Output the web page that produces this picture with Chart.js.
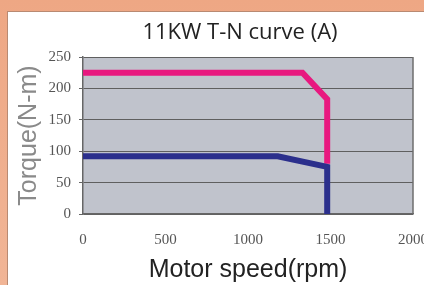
<!DOCTYPE html>
<html>
<head>
<meta charset="utf-8">
<script src="https://cdn.jsdelivr.net/npm/chart.js@4/dist/chart.umd.min.js"></script>
<style>
  html, body { margin: 0; padding: 0; }
  body { width: 424px; height: 285px; overflow: hidden; position: relative;
         background: linear-gradient(180deg, #eea784 0%, #f1b596 100%); }
  #panel { position: absolute; left: 7px; top: 11px; width: 430px; height: 290px;
           background: #fff; border-left: 1px solid #b98a72; border-top: 1px solid #b98a72; }
  #wrap { position: absolute; left: 0; top: 0; width: 424px; height: 285px; }
</style>
</head>
<body>
<div id="panel"></div>
<div id="wrap"><canvas id="tn" width="424" height="285"></canvas></div>
<script>
// values
const speedA = [0, 1330, 1480, 1480]     // rpm, pink (peak)
const torqueA = [225, 225, 183, 80]      // N-m
const speedB = [0, 1180, 1480, 1480]     // rpm, blue (rated)
const torqueB = [92, 92, 75, 0]
const xTicks = [0, 500, 1000, 1500, 2000]
const yTicks = [0, 50, 100, 150, 200, 250]

const toPoints = (xs, ys) => xs.map((x, i) => ({ x: x, y: ys[i] }))

// gray plot background + frame
const plotBg = {
  id: 'plotBg',
  beforeDraw(chart) {
    const { ctx, chartArea: a } = chart
    ctx.save()
    ctx.fillStyle = '#c0c3cc'
    ctx.fillRect(a.left, a.top, a.right - a.left, a.bottom - a.top)
    ctx.restore()
  },
  afterDraw(chart) {
    const { ctx, chartArea: a } = chart
    ctx.save()
    ctx.strokeStyle = '#6e6e6e'
    ctx.lineWidth = 1.5
    ctx.beginPath()
    ctx.moveTo(a.right, a.top)
    ctx.lineTo(a.right, a.bottom)
    ctx.stroke()
    ctx.restore()
  },
  afterLayout(chart) {
    // title sits a bit left of plot centre
    chart.titleBlock.left = 56
    chart.titleBlock.right = 424
  },
}

const lineStyle = { borderWidth: 6, borderJoinStyle: 'miter', borderCapStyle: 'butt', pointRadius: 0, showLine: true, fill: false }

new Chart(document.getElementById('tn'), {
  type: 'scatter',
  data: {
    datasets: [
      { label: 'rated', data: toPoints(speedB, torqueB), borderColor: '#2b2f8c', ...lineStyle },
      { label: 'peak', data: toPoints(speedA, torqueA), borderColor: '#e8187f', ...lineStyle },
    ],
  },
  options: {
    responsive: false,
    animation: false,
    layout: { padding: { left: 0, right: 11, top: 0, bottom: 0 } },
    plugins: {
      legend: { display: false },
      tooltip: { enabled: false },
      title: {
        display: true,
        text: '11KW T-N curve (A)',
        color: '#222',
        font: { family: 'Open Sans', size: 22, weight: 'normal' },
        padding: { top: 20, bottom: 10.6 },
      },
    },
    scales: {
      x: {
        type: 'linear',
        min: 0, max: 2000,
        afterBuildTicks: (s) => { s.ticks = xTicks.map(v => ({ value: v })) },
        afterFit: (s) => { s.height = 71; s.paddingLeft = 0; s.paddingRight = 0 },
        grid: { drawOnChartArea: false, drawTicks: false },
        border: { color: '#666', width: 1.5 },
        ticks: { padding: 17, color: '#555', font: { family: 'Liberation Serif', size: 15 }, callback: (v) => String(v) },
        title: {
          display: true, text: 'Motor speed(rpm)', color: '#222',
          font: { family: 'Liberation Sans', size: 25 },
          padding: { top: 0, bottom: 0 },
        },
      },
      y: {
        min: 0, max: 250,
        afterBuildTicks: (s) => { s.ticks = yTicks.map(v => ({ value: v })) },
        afterFit: (s) => { s.width = 83; s.paddingTop = 0; s.paddingBottom = 0 },
        grid: { color: '#5f5f5f', lineWidth: 1, tickLength: 4, tickColor: '#666' },
        border: { color: '#666', width: 1.5 },
        ticks: { padding: 8, color: '#555', font: { family: 'Liberation Serif', size: 15 }, callback: (v) => String(v) },
        title: {
          display: true, text: 'Torque(N-m)', color: '#8a8a8a',
          font: { family: 'Liberation Sans', size: 25 },
          padding: { top: 14, bottom: 0 },
        },
      },
    },
  },
  plugins: [plotBg],
})
</script>
</body>
</html>
